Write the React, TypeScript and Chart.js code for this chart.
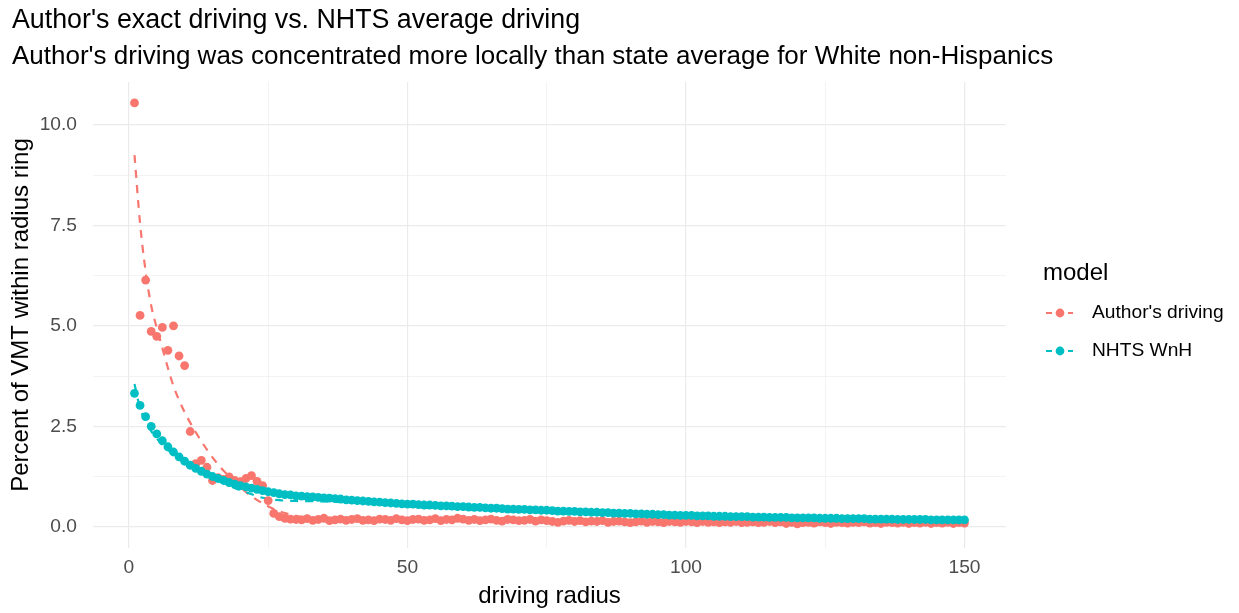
import { useEffect, useRef } from "react";
import { Chart, registerables } from "chart.js";

Chart.register(...registerables);

const FONT = "'Liberation Sans', Arial, sans-serif";

const TITLE = "Author's exact driving vs. NHTS average driving";
const SUBTITLE =
  "Author's driving was concentrated more locally than state average for White non-Hispanics";
const X_TITLE = "driving radius";
const Y_TITLE = "Percent of VMT within radius ring";
const LEGEND_TITLE = "model";

const SERIES_NAMES = ["Author's driving", "NHTS WnH"];
const SERIES_COLORS = ["#F8766D", "#00BFC4"];

// driving radius rings 1..150
const radius = Array.from({ length: 150 }, (_, i) => i + 1);

const authorPct = [
  10.55, 5.26, 6.14, 4.86, 4.74, 4.96, 4.39, 5.0, 4.25, 4.01,
  2.37, 1.57, 1.65, 1.48, 1.15, 1.22, 1.18, 1.24, 1.15, 1.12,
  1.2, 1.27, 1.13, 1.02, 0.65, 0.33, 0.25, 0.21, 0.19, 0.18,
  0.17, 0.2, 0.16, 0.18, 0.21, 0.15, 0.17, 0.19, 0.16, 0.18,
  0.2, 0.16, 0.17, 0.15, 0.19, 0.18, 0.16, 0.2, 0.17, 0.15,
  0.18, 0.19, 0.16, 0.17, 0.2, 0.15, 0.18, 0.17, 0.21, 0.19,
  0.16, 0.18, 0.15, 0.17, 0.19, 0.16, 0.14, 0.18, 0.17, 0.15,
  0.16, 0.18, 0.14, 0.17, 0.15, 0.13, 0.11, 0.14, 0.16, 0.13,
  0.15, 0.12, 0.14, 0.13, 0.15, 0.11, 0.13, 0.14, 0.12, 0.1,
  0.12, 0.14, 0.11, 0.13, 0.12, 0.1, 0.13, 0.12, 0.11, 0.13,
  0.12, 0.1, 0.13, 0.11, 0.12, 0.1, 0.12, 0.11, 0.13, 0.1,
  0.11, 0.12, 0.1, 0.11, 0.13, 0.1, 0.12, 0.08, 0.11, 0.07,
  0.1, 0.11, 0.09, 0.12, 0.1, 0.08, 0.11, 0.1, 0.09, 0.11,
  0.1, 0.12, 0.09, 0.1, 0.08, 0.11, 0.1, 0.09, 0.11, 0.08,
  0.1, 0.09, 0.11, 0.08, 0.1, 0.09, 0.11, 0.08, 0.1, 0.09,
];

const nhtsPct = [
  3.32, 3.02, 2.74, 2.5, 2.31, 2.14, 1.99, 1.86, 1.74, 1.63,
  1.53, 1.45, 1.38, 1.31, 1.25, 1.2, 1.15, 1.1, 1.06, 1.02,
  0.99, 0.96, 0.93, 0.9, 0.87, 0.85, 0.82, 0.8, 0.79, 0.77,
  0.76, 0.75, 0.74, 0.73, 0.72, 0.71, 0.7, 0.69, 0.67, 0.66,
  0.65, 0.64, 0.63, 0.62, 0.61, 0.6, 0.59, 0.58, 0.57, 0.56,
  0.56, 0.55, 0.54, 0.54, 0.53, 0.52, 0.52, 0.51, 0.5, 0.5,
  0.49, 0.48, 0.48, 0.47, 0.46, 0.46, 0.45, 0.44, 0.44, 0.43,
  0.43, 0.42, 0.42, 0.41, 0.41, 0.4, 0.39, 0.39, 0.38, 0.38,
  0.37, 0.37, 0.36, 0.36, 0.35, 0.35, 0.34, 0.34, 0.33, 0.33,
  0.32, 0.32, 0.31, 0.31, 0.3, 0.3, 0.29, 0.29, 0.28, 0.28,
  0.28, 0.27, 0.27, 0.27, 0.26, 0.26, 0.26, 0.25, 0.25, 0.25,
  0.25, 0.24, 0.24, 0.24, 0.23, 0.23, 0.23, 0.23, 0.22, 0.22,
  0.22, 0.22, 0.22, 0.21, 0.21, 0.21, 0.21, 0.2, 0.2, 0.2,
  0.2, 0.2, 0.19, 0.19, 0.19, 0.19, 0.19, 0.18, 0.18, 0.18,
  0.18, 0.18, 0.18, 0.17, 0.17, 0.17, 0.17, 0.17, 0.17, 0.17,
];

// fitted decay curves (dashed)
const authorFitX = [1, 2, 3, 4, 5, 6, 7, 8, 9, 10, 12, 14, 16, 18, 20, 22, 24, 26, 28, 30, 35, 40, 50, 75, 100, 125, 150];
const authorFitY = [9.25, 7.55, 6.35, 5.5, 4.95, 4.45, 3.95, 3.5, 3.15, 2.85, 2.35, 1.92, 1.55, 1.25, 0.98, 0.76, 0.58, 0.44, 0.34, 0.27, 0.18, 0.15, 0.14, 0.13, 0.12, 0.11, 0.1];
const nhtsFitX = [1, 2, 3, 4, 5, 6, 8, 10, 12, 15, 18, 21, 24, 27, 30, 35, 40, 50, 60, 75, 100, 125, 150];
const nhtsFitY = [3.55, 2.95, 2.62, 2.38, 2.2, 2.04, 1.8, 1.6, 1.43, 1.22, 1.02, 0.86, 0.72, 0.66, 0.64, 0.63, 0.6, 0.54, 0.49, 0.41, 0.29, 0.22, 0.17];

const xTicks = [0, 25, 50, 75, 100, 125, 150];
const yTicks = [0, 1.25, 2.5, 3.75, 5, 6.25, 7.5, 8.75, 10];

const GRID = "#EBEBEB";
const POINT_R = 4.4;
const DASH = [8, 7];

const pairs = (xs: number[], ys: number[]) => xs.map((x, i) => ({ x, y: ys[i] }));

const decorations = {
  id: "decorations",
  afterDraw(chart: any) {
    const { ctx, chartArea } = chart;
    ctx.save();
    ctx.fillStyle = "#000000";
    ctx.textAlign = "left";
    ctx.textBaseline = "alphabetic";
    ctx.font = `26.8px ${FONT}`;
    ctx.fillText(TITLE, 12, 28);
    ctx.font = `26px ${FONT}`;
    ctx.fillText(SUBTITLE, 12, 64);

    ctx.textAlign = "center";
    ctx.textBaseline = "middle";
    ctx.font = `24px ${FONT}`;
    ctx.fillText(X_TITLE, (chartArea.left + chartArea.right) / 2, 596);

    ctx.save();
    ctx.translate(21, (chartArea.top + chartArea.bottom) / 2);
    ctx.rotate(-Math.PI / 2);
    ctx.fillText(Y_TITLE, 0, 0);
    ctx.restore();

    // legend
    ctx.textAlign = "left";
    ctx.font = `24px ${FONT}`;
    ctx.fillText(LEGEND_TITLE, 1043, 273);
    ctx.font = `19.2px ${FONT}`;
    SERIES_NAMES.forEach((name, i) => {
      const y = 313 + i * 38;
      ctx.strokeStyle = SERIES_COLORS[i];
      ctx.lineWidth = 2.2;
      ctx.setLineDash([6, 5]);
      ctx.beginPath();
      ctx.moveTo(1046, y);
      ctx.lineTo(1073, y);
      ctx.stroke();
      ctx.setLineDash([]);
      ctx.fillStyle = SERIES_COLORS[i];
      ctx.beginPath();
      ctx.arc(1060, y, POINT_R, 0, Math.PI * 2);
      ctx.fill();
      ctx.fillStyle = "#000000";
      ctx.fillText(name, 1092, y);
    });
    ctx.restore();
  },
};

export default function App() {
  const ref = useRef<HTMLCanvasElement | null>(null);

  useEffect(() => {
    if (!ref.current) return;
    const chart = new Chart(ref.current, {
      type: "scatter",
      data: {
        datasets: [
          {
            label: SERIES_NAMES[1],
            data: pairs(radius, nhtsPct),
            backgroundColor: SERIES_COLORS[1],
            borderWidth: 0,
            pointRadius: POINT_R,
            order: 0,
          },
          {
            label: SERIES_NAMES[0],
            data: pairs(radius, authorPct),
            backgroundColor: SERIES_COLORS[0],
            borderWidth: 0,
            pointRadius: POINT_R,
            order: 1,
          },
          {
            label: SERIES_NAMES[1] + " fit",
            data: pairs(nhtsFitX, nhtsFitY),
            showLine: true,
            borderColor: SERIES_COLORS[1],
            borderWidth: 2.2,
            borderDash: DASH,
            pointRadius: 0,
            cubicInterpolationMode: "monotone",
            order: 2,
          },
          {
            label: SERIES_NAMES[0] + " fit",
            data: pairs(authorFitX, authorFitY),
            showLine: true,
            borderColor: SERIES_COLORS[0],
            borderWidth: 2.2,
            borderDash: DASH,
            pointRadius: 0,
            cubicInterpolationMode: "monotone",
            order: 3,
          },
        ],
      },
      options: {
        responsive: false,
        animation: false,
        events: [],
        layout: { padding: { left: 0, right: 233, top: 82, bottom: 0 } },
        plugins: { legend: { display: false }, tooltip: { enabled: false }, title: { display: false } },
        scales: {
          x: {
            type: "linear",
            min: -6.45,
            max: 157.45,
            afterBuildTicks: (s: any) => {
              s.ticks = xTicks.map((value) => ({ value }));
            },
            afterFit: (s: any) => {
              s.height = 65;
            },
            border: { display: false },
            grid: {
              color: GRID,
              drawTicks: false,
              lineWidth: (c: any) => (c.tick && c.tick.value % 50 === 0 ? 1.2 : 0.6),
            },
            ticks: {
              autoSkip: false,
              maxRotation: 0,
              padding: 8,
              color: "#4D4D4D",
              font: { family: FONT, size: 19.2 },
              callback: (v: any) => (Number(v) % 50 === 0 ? String(v) : ""),
            },
          },
          y: {
            type: "linear",
            min: -0.53,
            max: 11.07,
            afterBuildTicks: (s: any) => {
              s.ticks = yTicks.map((value) => ({ value }));
            },
            afterFit: (s: any) => {
              s.width = 93;
            },
            border: { display: false },
            grid: {
              color: GRID,
              drawTicks: false,
              lineWidth: (c: any) => (c.tick && c.tick.value % 2.5 === 0 ? 1.2 : 0.6),
            },
            ticks: {
              autoSkip: false,
              padding: 16,
              color: "#4D4D4D",
              font: { family: FONT, size: 19.2 },
              callback: (v: any) => (Number(v) % 2.5 === 0 ? Number(v).toFixed(1) : ""),
            },
          },
        },
      },
      plugins: [decorations],
    });
    return () => chart.destroy();
  }, []);

  return (
    <div style={{ position: "fixed", left: 0, top: 0, width: 1239, height: 613, background: "#fff" }}>
      <canvas ref={ref} width={1239} height={613} />
    </div>
  );
}
